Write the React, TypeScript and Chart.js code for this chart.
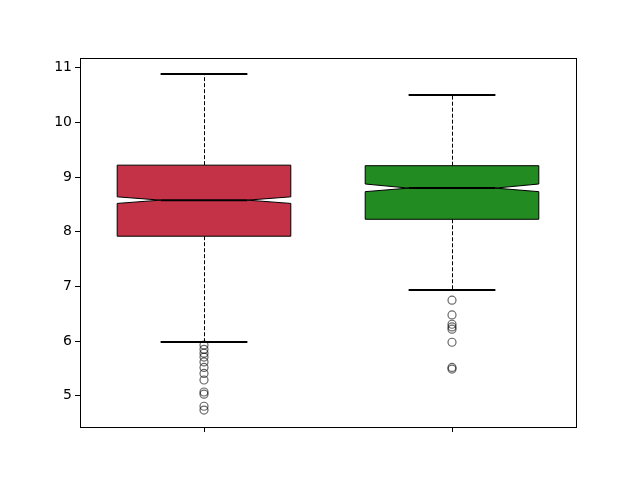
import React, { useEffect, useRef } from "react";
import { Chart, registerables } from "chart.js";

Chart.register(...registerables);

const categories = ["A", "B"];
const positions = [1, 2];
const q1Values = [7.92, 8.23];
const medianValues = [8.58, 8.8];
const q3Values = [9.22, 9.21];
const notchLowValues = [8.52, 8.735];
const notchHighValues = [8.64, 8.875];
const whiskerLowValues = [5.98, 6.93];
const whiskerHighValues = [10.89, 10.51];
const outliersA = [5.93, 5.85, 5.78, 5.71, 5.62, 5.52, 5.41, 5.29, 5.07, 5.03, 4.81, 4.74];
const outliersB = [6.75, 6.48, 6.31, 6.26, 6.22, 5.98, 5.52, 5.49];
const outlierSets = [outliersA, outliersB];
const yTickValues = [5, 6, 7, 8, 9, 10, 11];
const boxColors = ["#c43248", "#228b22"];

const boxPlugin = {
  id: "boxes",
  beforeDatasetsDraw(chart: any) {
    const ctx = chart.ctx;
    const xs = chart.scales.x;
    const ys = chart.scales.y;
    ctx.save();
    categories.forEach((_, i) => {
      const p = positions[i];
      const x = xs.getPixelForValue(p);
      const hw = xs.getPixelForValue(p + 0.35) - x;
      const nw = hw * 0.5;
      const cw = hw * 0.5;
      const yQ1 = ys.getPixelForValue(q1Values[i]);
      const yQ3 = ys.getPixelForValue(q3Values[i]);
      const yMed = ys.getPixelForValue(medianValues[i]);
      const yNL = ys.getPixelForValue(notchLowValues[i]);
      const yNH = ys.getPixelForValue(notchHighValues[i]);
      const yWL = ys.getPixelForValue(whiskerLowValues[i]);
      const yWH = ys.getPixelForValue(whiskerHighValues[i]);
      ctx.strokeStyle = "#000";
      ctx.lineWidth = 1;
      ctx.setLineDash([4, 2]);
      ctx.beginPath();
      ctx.moveTo(Math.round(x) + 0.5, yQ3);
      ctx.lineTo(Math.round(x) + 0.5, yWH);
      ctx.moveTo(Math.round(x) + 0.5, yQ1);
      ctx.lineTo(Math.round(x) + 0.5, yWL);
      ctx.stroke();
      ctx.setLineDash([]);
      ctx.lineWidth = 2;
      ctx.beginPath();
      ctx.moveTo(x - cw, Math.round(yWH));
      ctx.lineTo(x + cw, Math.round(yWH));
      ctx.moveTo(x - cw, Math.round(yWL));
      ctx.lineTo(x + cw, Math.round(yWL));
      ctx.stroke();
      ctx.beginPath();
      ctx.moveTo(x - hw, yQ1);
      ctx.lineTo(x - hw, yNL);
      ctx.lineTo(x - nw, yMed);
      ctx.lineTo(x - hw, yNH);
      ctx.lineTo(x - hw, yQ3);
      ctx.lineTo(x + hw, yQ3);
      ctx.lineTo(x + hw, yNH);
      ctx.lineTo(x + nw, yMed);
      ctx.lineTo(x + hw, yNL);
      ctx.lineTo(x + hw, yQ1);
      ctx.closePath();
      ctx.fillStyle = boxColors[i];
      ctx.fill();
      ctx.lineWidth = 1;
      ctx.strokeStyle = "#000";
      ctx.stroke();
      ctx.lineWidth = 2;
      ctx.beginPath();
      ctx.moveTo(x - nw, yMed);
      ctx.lineTo(x + nw, yMed);
      ctx.stroke();
    });
    ctx.restore();
  },
  afterDraw(chart: any) {
    const ctx = chart.ctx;
    const a = chart.chartArea;
    ctx.save();
    ctx.strokeStyle = "#000";
    ctx.lineWidth = 1;
    ctx.strokeRect(Math.round(a.left) + 0.5, Math.round(a.top) + 0.5, Math.round(a.right - a.left), Math.round(a.bottom - a.top));
    ctx.restore();
  },
};

export default function App() {
  const ref = useRef<HTMLCanvasElement>(null);
  useEffect(() => {
    if (!ref.current) return;
    const chart = new Chart(ref.current, {
      type: "scatter",
      data: {
        datasets: outlierSets.map((set, i) => ({
          label: categories[i],
          data: set.map((v) => ({ x: positions[i], y: v })),
          pointRadius: 4,
          pointHoverRadius: 4,
          pointBackgroundColor: "rgba(0,0,0,0)",
          pointBorderColor: "rgba(0,0,0,0.6)",
          pointBorderWidth: 1.2,
        })),
      },
      options: {
        animation: false,
        responsive: false,
        events: [],
        layout: { padding: { left: 0, right: 64, top: 58, bottom: 0 } },
        plugins: { legend: { display: false }, tooltip: { enabled: false } },
        scales: {
          x: {
            type: "linear",
            min: 0.5,
            max: 2.5,
            afterBuildTicks: (s: any) => {
              s.ticks = positions.map((v) => ({ value: v }));
            },
            afterFit: (s: any) => {
              s.height = 53;
            },
            ticks: { callback: () => "", font: { family: "DejaVu Sans", size: 14 } },
            grid: { drawOnChartArea: false, drawTicks: true, tickLength: 5, color: "#000" },
            border: { display: true, color: "#000" },
          },
          y: {
            type: "linear",
            min: 4.43,
            max: 11.18,
            afterBuildTicks: (s: any) => {
              s.ticks = yTickValues.map((v) => ({ value: v }));
            },
            afterFit: (s: any) => {
              s.width = 80;
            },
            ticks: {
              color: "#000",
              padding: 3,
              font: { family: "DejaVu Sans", size: 14 },
              callback: (v: any) => String(v),
            },
            grid: { drawOnChartArea: false, drawTicks: true, tickLength: 5, color: "#000" },
            border: { display: true, color: "#000" },
          },
        },
      },
      plugins: [boxPlugin],
    });
    return () => chart.destroy();
  }, []);
  return (
    <div style={{ position: "fixed", left: 0, top: 0, width: 640, height: 480, background: "#fff" }}>
      <canvas ref={ref} width={640} height={480} />
    </div>
  );
}
